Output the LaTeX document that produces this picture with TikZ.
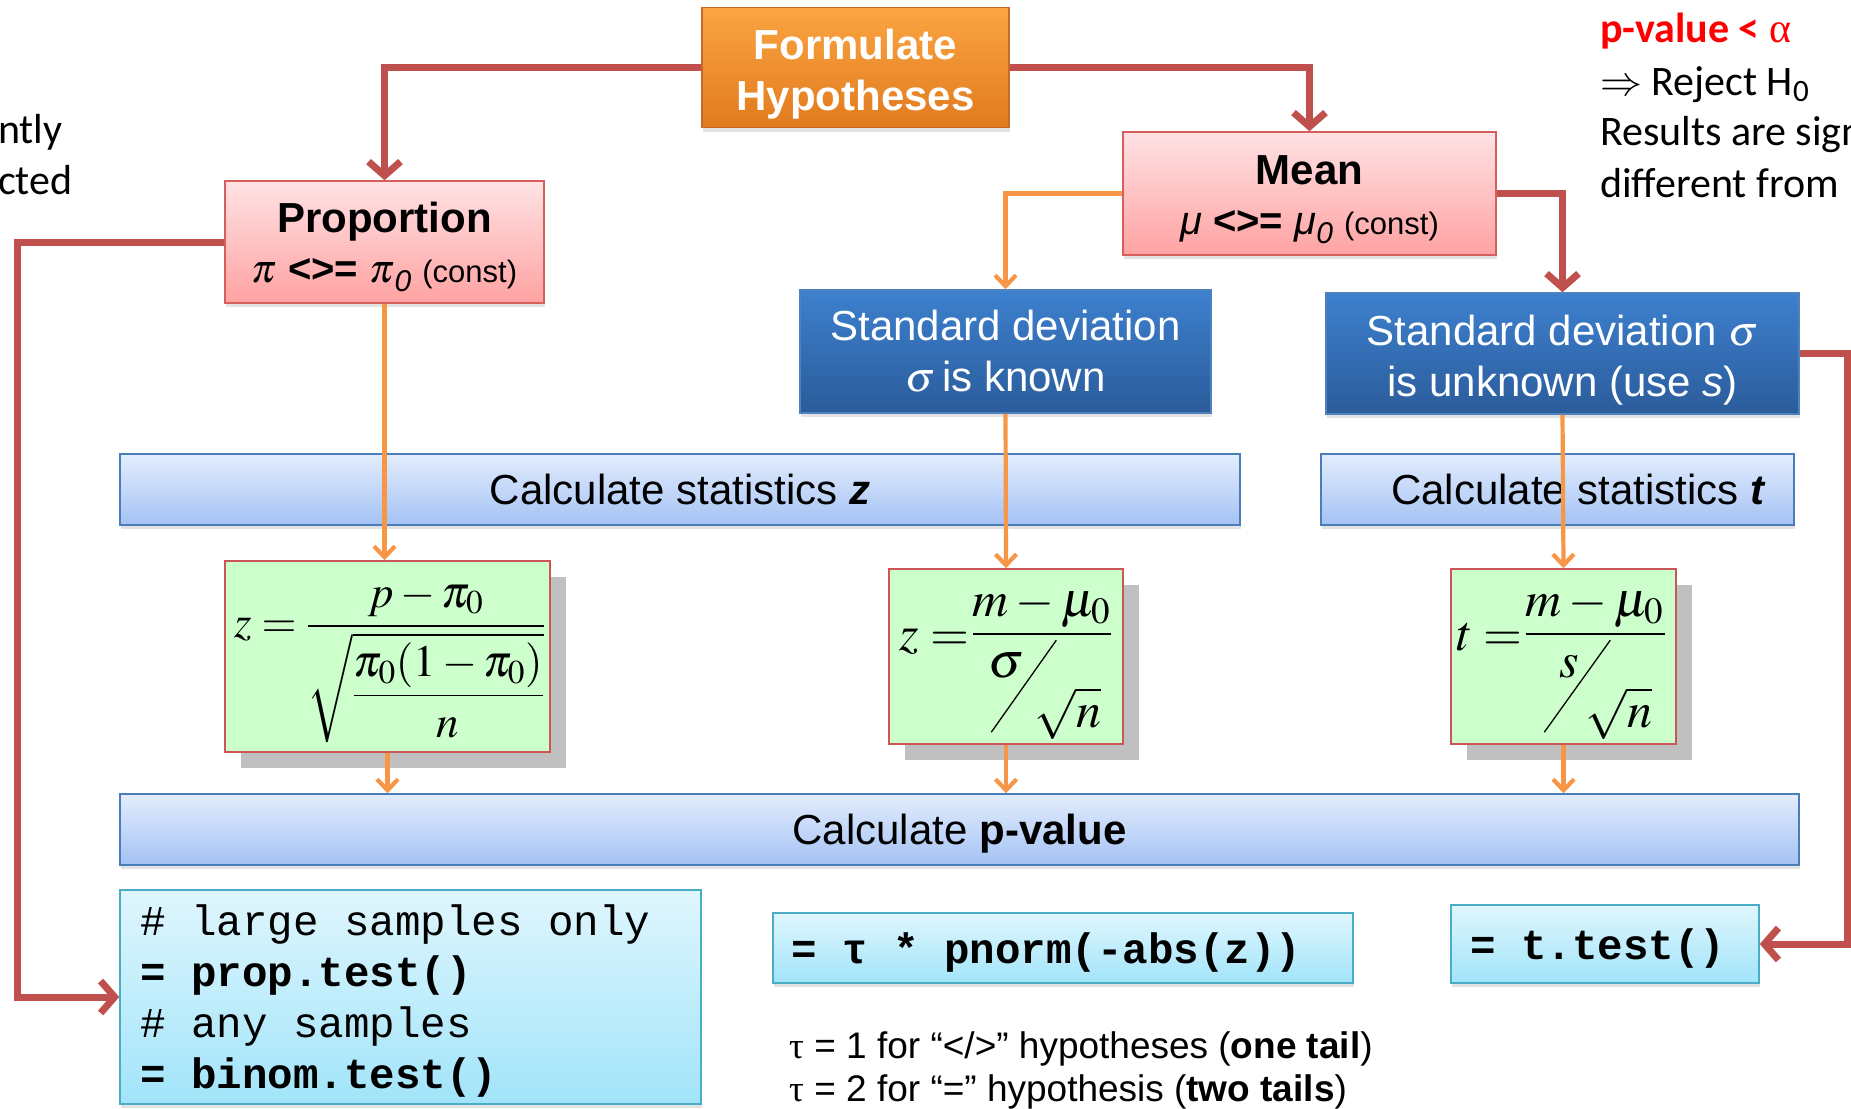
\documentclass[tikz,border=0pt]{standalone}
\usepackage{amsmath}
\usepackage{mathptmx}
\usepackage[no-math]{fontspec}
\setmainfont{Liberation Sans}
\setmonofont{Liberation Mono}
\newfontfamily\calibrifont{Carlito}
\newfontfamily\greekserif{Liberation Serif}
\usetikzlibrary{arrows.meta,calc,shadows}
\newcommand\monosp{\hspace*{0.6em}}

\definecolor{redc}{HTML}{C0504D}
\definecolor{orc}{HTML}{F79646}
\definecolor{orTop}{HTML}{FBA542}
\definecolor{orBot}{HTML}{E17A1E}
\definecolor{orBorder}{HTML}{C8692A}
\definecolor{pinkTop}{HTML}{FFE2E4}
\definecolor{pinkBot}{HTML}{FFA2A2}
\definecolor{pinkBorder}{HTML}{D65F5B}
\definecolor{blueTop}{HTML}{3D80CE}
\definecolor{blueBot}{HTML}{2B5C9B}
\definecolor{blueBorder}{HTML}{4F81BD}
\definecolor{calcTop}{HTML}{E3EDFD}
\definecolor{calcBot}{HTML}{A4C2F4}
\definecolor{calcBorder}{HTML}{4A7EBB}
\definecolor{codeTop}{HTML}{DFF6FD}
\definecolor{codeBot}{HTML}{A2E4FA}
\definecolor{codeBorder}{HTML}{4BACC6}
\definecolor{fGreen}{HTML}{CCFFCC}
\definecolor{fBorder}{HTML}{CC5555}
\definecolor{shGray}{HTML}{C0C0C0}
\definecolor{pred}{HTML}{FF0000}

\tikzset{
  redarrow/.style={draw=redc, line width=7pt, -{Straight Barb[length=14pt,width=32pt]}},
  orarrow/.style={draw=orc, line width=4.2pt, -{Straight Barb[length=11pt,width=21pt]}},
  softshadow/.style={drop shadow={opacity=0.22, shadow xshift=1pt, shadow yshift=-4pt}},
  basebox/.style={line width=1.5pt, inner sep=0pt, align=center, softshadow},
  formbox/.style={basebox, draw=orBorder, top color=orTop, bottom color=orBot, text=white, font=\bfseries\fontsize{42}{51}\selectfont},
  pinkbox/.style={basebox, draw=pinkBorder, top color=pinkTop, bottom color=pinkBot, font=\fontsize{42}{48}\selectfont},
  bluebox/.style={basebox, draw=blueBorder, top color=blueTop, bottom color=blueBot, text=white, font=\fontsize{42}{51}\selectfont},
  calcbox/.style={basebox, draw=calcBorder, top color=calcTop, bottom color=calcBot, font=\fontsize{42}{51}\selectfont},
  formulabox/.style={draw=fBorder, line width=1.5pt, fill=fGreen, inner sep=0pt, drop shadow={shadow xshift=16pt, shadow yshift=-16pt, fill=shGray, opacity=1}},
  codebox/.style={basebox, draw=codeBorder, top color=codeTop, bottom color=codeBot, align=left, font=\ttfamily\fontsize{42.5}{51}\selectfont},
  mathf/.style={inner sep=0pt, font=\fontsize{50}{55}\selectfont},
  note/.style={inner sep=0pt, anchor=base west, font=\calibrifont\fontsize{42}{51}\selectfont},
  tnote/.style={inner sep=0pt, anchor=base west, font=\fontsize{37}{43}\selectfont},
  fracbar/.style={line width=2pt},
  slashline/.style={line width=1.3pt},
}

\begin{document}
\begin{tikzpicture}[x=1pt,y=-1pt]
\useasboundingbox (0,0) rectangle (1851,1108);
\clip (0,0) rectangle (1851,1108);

% top boxes
\node[formbox, minimum width=307, minimum height=120] (form) at (855.5,67.5) {\rule{0pt}{43pt}Formulate\\Hypotheses};
\node[pinkbox, minimum width=319, minimum height=122] (prop) at (384.5,242)
  {\rule{0pt}{41pt}\bfseries Proportion\\[2pt]{\fontsize{40}{48}\selectfont$\pi$ \textbf{<>=} $\pi$\raisebox{-9pt}{\fontsize{30}{30}\selectfont\itshape 0} {\fontsize{31}{32}\selectfont(const)}}};
\node[pinkbox, minimum width=373, minimum height=123] (mean) at (1309.5,193.5)
  {\rule{0pt}{41pt}\bfseries Mean\\[2pt]{\fontsize{40}{48}\selectfont\textit{μ} \textbf{<>=} \textit{μ}\raisebox{-9pt}{\fontsize{30}{30}\selectfont\itshape 0} {\fontsize{31}{32}\selectfont(const)}}};
\node[bluebox, minimum width=411, minimum height=123] (sdk) at (1005.5,351.5) {Standard deviation\\$\sigma$\,is known};
\node[bluebox, minimum width=473, minimum height=121] (sdu) at (1562.5,353.5) {\rule{0pt}{44pt}Standard deviation $\sigma$\\is unknown (use \textit{s})};

% calculation bars
\node[calcbox, minimum width=1120, minimum height=71] (cz) at (680,489.5) {Calculate statistics \textbf{\textit{z}}};
\node[calcbox, minimum width=473, minimum height=71] (ct) at (1557.5,489.5) {\hspace*{42pt}Calculate statistics \textbf{\textit{t}}};

% formula boxes
\node[formulabox, minimum width=325, minimum height=191] (f1) at (387.5,656.5) {};
\node[formulabox, minimum width=234, minimum height=175] (f2) at (1006,656.5) {};
\node[formulabox, minimum width=225, minimum height=175] (f3) at (1563.5,656.5) {};

\node[inner sep=0pt, font=\fontsize{45}{50}\selectfont] (f1math) at ($(f1.center)+(2,5)$)
  {$z=\dfrac{p-\pi_0}{\sqrt{\dfrac{\pi_0(1-\pi_0)}{n}}}$};

% formula 2
\node[mathf, anchor=base west] (f2l) at ($(f2.north west)+(11,82)$) {$z=$};
\node[mathf, anchor=base] (f2n) at ($(f2.north west)+(153,48)$) {$m-\mu_0$};
\draw[fracbar] ($(f2.north west)+(85,66)$) -- ($(f2.north west)+(223,66)$);
\node[mathf, anchor=base] (f2s) at ($(f2.north west)+(118,109)$) {$\sigma$};
\draw[slashline] ($(f2.north west)+(103,164)$) -- ($(f2.north west)+(168,72)$);
\node[mathf, anchor=base west] (f2r) at ($(f2.north west)+(146,159)$) {$\sqrt{n}$};

% formula 3
\node[mathf, anchor=base west] (f3l) at ($(f3.north west)+(6,82)$) {$t=$};
\node[mathf, anchor=base] (f3n) at ($(f3.north west)+(144,48)$) {$m-\mu_0$};
\draw[fracbar] ($(f3.north west)+(76,66)$) -- ($(f3.north west)+(215,66)$);
\node[mathf, anchor=base] (f3s) at ($(f3.north west)+(119,109)$) {$s$};
\draw[slashline] ($(f3.north west)+(94,164)$) -- ($(f3.north west)+(160,72)$);
\node[mathf, anchor=base west] (f3r) at ($(f3.north west)+(135,159)$) {$\sqrt{n}$};

% p-value bar
\node[calcbox, minimum width=1679, minimum height=71] (pv) at (959.5,829.5) {\rule{0pt}{38pt}Calculate \textbf{p-value}};

% code boxes
\node[codebox, text width=541, inner xsep=20pt, minimum height=214] (c1) at (410.5,997)
  {\rule{0pt}{39pt}\#\monosp large\monosp samples\monosp only\\\textbf{=\monosp prop.test()}\\\#\monosp any\monosp samples\\\textbf{=\monosp binom.test()}};
\node[codebox, text width=544, inner xsep=18pt, minimum height=70] (c2) at (1063,948) {\rule{0pt}{39pt}\textbf{=\monosp τ\monosp *\monosp pnorm(-abs(z))}};
\node[codebox, text width=270, inner xsep=19pt, minimum height=78] (c3) at (1605,944) {\rule{0pt}{39pt}\textbf{=\monosp t.test()}};

% notes
\node[tnote] (tau1) at (789,1058) {{\greekserif τ} = 1 for “</>” hypotheses (\textbf{one tail})};
\node[tnote] (tau2) at (789,1101) {{\greekserif τ} = 2 for “=” hypothesis (\textbf{two tails})};

\node[note, text=pred] (r1) at (1600,43) {\bfseries p-value < {\mdseries\greekserif α}};
\node[note] (r2) at (1600,95) {$\Rightarrow$ Reject H\textsubscript{0}};
\node[note] (r3) at (1600,145) {Results are sign};
\node[note] (r4) at (1600,197) {different from};
\node[note] (l1) at (-2,143) {ntly};
\node[note] (l2) at (-2,194) {cted};

% connectors
\draw[redarrow] (form.west) -| (prop.north);
\draw[redarrow] (form.east) -| (mean.north);
\draw[redarrow] (mean.east) -| (sdu.north);
\draw[orarrow] (mean.west) -| (sdk.north);
\draw[redarrow] (prop.west) -- ++(-207,0) coordinate (lc) |- (c1.west);
\draw[redarrow] (sdu.east) -- ++(48,0) coordinate (rc) |- (c3.east);
\draw[orarrow] (prop.south) -- (prop.south |- f1.north);
\draw[orarrow] (sdk.south) -- (f2.north);
\draw[orarrow] (sdu.south) -- (f3.north);
\draw[orarrow] (f1.south) -- (f1.south |- pv.north);
\draw[orarrow] (f2.south) -- (f2.south |- pv.north);
\draw[orarrow] (f3.south) -- (f3.south |- pv.north);
\end{tikzpicture}
\end{document}
